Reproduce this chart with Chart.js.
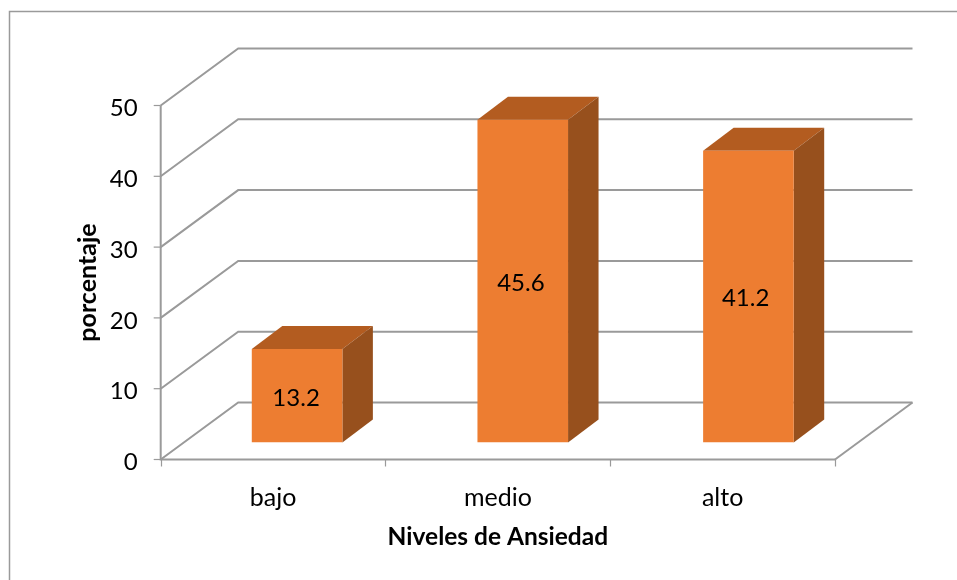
<!DOCTYPE html>
<html><head><meta charset="utf-8">
<style>html,body{margin:0;padding:0;background:#fff}#w{position:relative;width:957px;height:580px}canvas{display:block}</style>
<script src="https://cdn.jsdelivr.net/npm/chart.js@4"></script></head>
<body><div id="w"><canvas id="c" width="957" height="580"></canvas></div>
<script>
const categories = ['bajo', 'medio', 'alto'];
const values = [13.2, 45.6, 41.2];
const yTicks = [0, 10, 20, 30, 40, 50];
const xTitle = 'Niveles de Ansiedad';
const yTitle = 'porcentaje';
const GRID = '#9a9a9a', FRONT = '#ed7d31', TOP = '#b35c20', SIDE = '#97501d';
const wallDX = 77.5, wallDY = -57, barDX = 24, barDY = -17, barStep = 0.9, depthDX = 30.5, depthDY = -23;

const wall = {
  id: 'wall',
  beforeDraw(ch) {
    const {ctx, chartArea: a, scales: {y}} = ch;
    ctx.save();
    ctx.strokeStyle = GRID; ctx.lineWidth = 1.5;
    ctx.beginPath();
    ctx.moveTo(9.5, 580); ctx.lineTo(9.5, 11.5); ctx.lineTo(957, 11.5);
    ctx.stroke();
    ctx.lineWidth = 2;
    yTicks.forEach(t => {
      const p = y.getPixelForValue(t);
      ctx.beginPath(); ctx.moveTo(a.left, p); ctx.lineTo(a.left + wallDX, p + wallDY);
      ctx.lineTo(a.right + wallDX, p + wallDY); ctx.stroke();
      ctx.lineWidth = 1.2; ctx.beginPath(); ctx.moveTo(a.left - 7, p); ctx.lineTo(a.left, p); ctx.stroke();
      ctx.lineWidth = 2;
    });
    const b = y.getPixelForValue(0), t = y.getPixelForValue(yTicks[yTicks.length - 1]);
    ctx.beginPath(); ctx.moveTo(a.right, b); ctx.lineTo(a.right + wallDX, b + wallDY); ctx.stroke();
    ctx.beginPath(); ctx.moveTo(a.left, t); ctx.lineTo(a.left, b); ctx.lineTo(a.right, b); ctx.stroke();
    ctx.lineWidth = 1.2;
    const n = categories.length, w = (a.right - a.left) / n;
    for (let i = 0; i <= n; i++) {
      const px = Math.round(a.left + w * i) + 0.5;
      ctx.beginPath(); ctx.moveTo(px, b); ctx.lineTo(px, b + 7); ctx.stroke();
    }
    ctx.restore();
  },
  afterDatasetsUpdate(ch) {
    ch.getDatasetMeta(0).data.forEach((bar, i) => { bar.x += i * barStep; });
  },
  beforeDatasetsDraw(ch) {
    const {ctx} = ch;
    ctx.save(); ctx.translate(barDX, barDY);
    ch.getDatasetMeta(0).data.forEach(bar => {
      const l = bar.x - bar.width / 2, r = bar.x + bar.width / 2, t = bar.y, b = bar.base;
      ctx.fillStyle = TOP;
      ctx.beginPath(); ctx.moveTo(l, t); ctx.lineTo(l + depthDX, t + depthDY);
      ctx.lineTo(r + depthDX, t + depthDY); ctx.lineTo(r, t); ctx.closePath(); ctx.fill();
      ctx.fillStyle = SIDE;
      ctx.beginPath(); ctx.moveTo(r, t); ctx.lineTo(r + depthDX, t + depthDY);
      ctx.lineTo(r + depthDX, b + depthDY); ctx.lineTo(r, b); ctx.closePath(); ctx.fill();
    });
    ctx.restore();
    ctx.save(); ctx.translate(barDX, barDY);
  },
  afterDatasetsDraw(ch) {
    const {ctx, scales: {x}} = ch;
    ctx.restore();
    ctx.save();
    ctx.fillStyle = '#000'; ctx.font = '24px Lato'; ctx.textAlign = 'center'; ctx.textBaseline = 'middle';
    ch.getDatasetMeta(0).data.forEach((bar, i) => {
      ctx.fillText(String(values[i]), x.getPixelForValue(i) + barDX - 1, (bar.y + bar.base) / 2 + barDY + 2);
    });
    ctx.restore();
  }
};

new Chart(document.getElementById('c'), {
  type: 'bar',
  data: {labels: categories, datasets: [{data: values, backgroundColor: FRONT, borderWidth: 0, categoryPercentage: 1, barPercentage: 0.403}]},
  options: {
    responsive: false, animation: false, devicePixelRatio: 1,
    layout: {padding: {left: 69, right: 122, top: 105.5, bottom: 28}},
    plugins: {legend: {display: false}, tooltip: {enabled: false}},
    scales: {
      x: {
        afterFit(s) { s.height = 92.5; },
        grid: {display: false}, border: {display: false},
        ticks: {color: '#000', font: {family: 'Lato', size: 25}, padding: 15, maxRotation: 0},
        title: {display: true, text: xTitle, color: '#000', font: {family: 'Lato', size: 24.5, weight: 'bold'}, padding: {top: 4, bottom: 0}}
      },
      y: {
        min: 0, max: 50,
        afterFit(s) { s.width = 91.7; },
        afterBuildTicks(s) { s.ticks = yTicks.map(v => ({value: v})); },
        grid: {display: false}, border: {display: false},
        ticks: {color: '#000', font: {family: 'Lato', size: 24}, padding: 15, labelOffset: 3},
        title: {display: true, text: yTitle, color: '#000', font: {family: 'Lato', size: 25, weight: 'bold'}, padding: {bottom: 0}}
      }
    }
  },
  plugins: [wall]
});
</script></body></html>
